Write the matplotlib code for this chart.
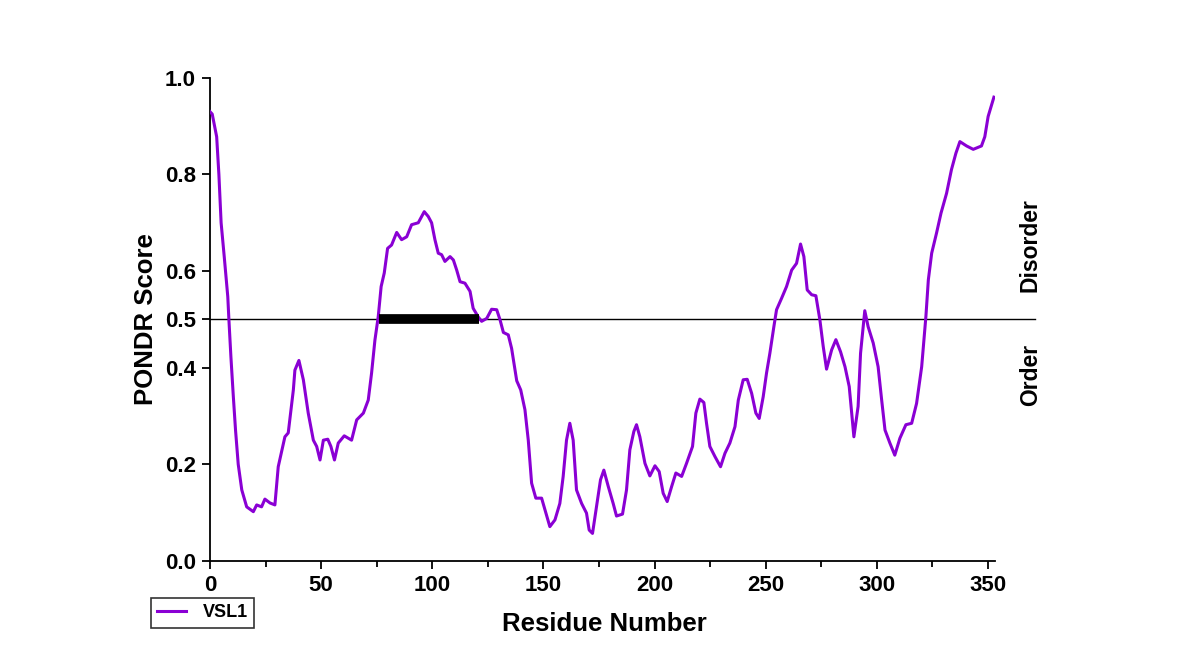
import numpy as np
import matplotlib
matplotlib.use('Agg')
import matplotlib.pyplot as plt

plt.rcParams['font.family'] = ['Liberation Sans', 'DejaVu Sans']
plt.rcParams['font.weight'] = 'bold'

# PONDR VSL1 prediction
residue = [0, 1, 3, 4, 5, 6.4, 8, 8.5, 9.4, 10.5,
           11.5, 12.7, 14.3, 16.5, 19.5, 21, 23.2, 24.7, 27, 29.2,
           30.7, 33.7, 35.2, 37.5, 38.2, 40, 42, 44.2, 46.5, 48,
           49.5, 51, 53, 54.4, 56, 57.7, 60.4, 63.7, 66, 69,
           71.2, 72.7, 74.2, 75.7, 77, 78.4, 79.9, 81.7, 84, 86.2,
           88.5, 90.7, 93.7, 96.4, 98.2, 99.7, 101.2, 102.7, 104.2, 105.7,
           108, 109.5, 111, 112.5, 114.7, 117, 118.4, 120.7, 122.2, 124.5,
           126.7, 129, 130.5, 132, 134.2, 135.7, 138, 139.8, 141.7, 143.2,
           144.7, 146.6, 149.2, 150.7, 152.9, 155.2, 157.4, 158.9, 160.4, 161.9,
           163.4, 164.9, 167.2, 169.4, 170.6, 172.1, 173.9, 175.7, 177.2, 179.2,
           181.4, 182.9, 185.6, 187.4, 188.9, 190.7, 191.9, 193.4, 195.7, 197.9,
           200.2, 202.1, 203.9, 205.7, 207.7, 209.6, 212.2, 214.4, 217.1, 218.6,
           220.4, 222.2, 223.4, 224.9, 227.2, 229.7, 231.7, 233.9, 236.2, 237.7,
           239.9, 241.7, 243.7, 245.6, 247.1, 248.9, 250.4, 251.9, 253.7, 254.9,
           257.2, 259.4, 261.7, 263.9, 265.7, 267.2, 268.7, 270.7, 272.6, 274.4,
           275.9, 277.4, 279.7, 281.6, 283.7, 285.7, 287.6, 289.7, 291.6, 292.7,
           294.6, 296.1, 298.4, 300.6, 302.2, 303.7, 305.9, 308.1, 310.4, 313.1,
           315.7, 317.9, 320.2, 322.1, 323.2, 324.7, 326.9, 328.9, 331.4, 333.6,
           335.6, 337.4, 340.4, 343.4, 347.1, 348.6, 350.1, 352.7]
score = [0.93, 0.925, 0.878, 0.80, 0.70, 0.63, 0.547, 0.50, 0.423, 0.34,
         0.27, 0.20, 0.147, 0.112, 0.102, 0.116, 0.112, 0.128, 0.12, 0.116,
         0.195, 0.257, 0.265, 0.354, 0.395, 0.415, 0.375, 0.306, 0.25, 0.237,
         0.209, 0.25, 0.252, 0.237, 0.209, 0.244, 0.259, 0.25, 0.292, 0.306,
         0.333, 0.389, 0.457, 0.506, 0.568, 0.596, 0.647, 0.654, 0.68, 0.665,
         0.671, 0.696, 0.70, 0.723, 0.713, 0.70, 0.665, 0.637, 0.634, 0.62,
         0.63, 0.623, 0.602, 0.578, 0.575, 0.558, 0.523, 0.505, 0.496, 0.502,
         0.521, 0.52, 0.499, 0.473, 0.468, 0.44, 0.373, 0.354, 0.313, 0.25,
         0.161, 0.13, 0.13, 0.106, 0.071, 0.085, 0.119, 0.175, 0.25, 0.285,
         0.25, 0.147, 0.119, 0.099, 0.064, 0.057, 0.112, 0.168, 0.188, 0.154,
         0.119, 0.093, 0.097, 0.147, 0.23, 0.268, 0.282, 0.257, 0.202, 0.176,
         0.197, 0.185, 0.14, 0.123, 0.154, 0.182, 0.175, 0.202, 0.237, 0.306,
         0.335, 0.328, 0.285, 0.237, 0.216, 0.195, 0.223, 0.244, 0.278, 0.333,
         0.375, 0.376, 0.347, 0.306, 0.295, 0.34, 0.389, 0.43, 0.485, 0.52,
         0.544, 0.568, 0.602, 0.616, 0.656, 0.63, 0.561, 0.551, 0.549, 0.499,
         0.444, 0.397, 0.437, 0.458, 0.433, 0.402, 0.361, 0.257, 0.32, 0.43,
         0.518, 0.485, 0.451, 0.402, 0.333, 0.271, 0.244, 0.219, 0.254, 0.282,
         0.285, 0.326, 0.402, 0.506, 0.582, 0.637, 0.679, 0.72, 0.761, 0.81,
         0.844, 0.868, 0.859, 0.852, 0.859, 0.878, 0.92, 0.96]

# disordered region marked by the black bar
disorder_start = 76
disorder_end = 121
threshold = 0.5

y_ticks = [0.0, 0.2, 0.4, 0.5, 0.6, 0.8, 1.0]
x_ticks = [0, 50, 100, 150, 200, 250, 300, 350]

fig = plt.figure(figsize=(12, 6.71), dpi=100)
ax = fig.add_axes([0.175, 0.164, 0.654, 0.720])

ax.plot(residue, score, color='#8a00d4', lw=2.2, label='VSL1', zorder=3)

# threshold line runs a bit past the axes on the right
ax.plot([0, 371], [threshold, threshold], color='black', lw=1.0, clip_on=False, zorder=2)
ax.plot([disorder_start, disorder_end], [threshold, threshold], color='black', lw=7,
        solid_capstyle='butt', zorder=4)

ax.set_xlim(0, 353.1)
ax.set_ylim(0, 1.0)
ax.set_xticks(x_ticks)
ax.set_xticks(np.arange(25, 353, 50), minor=True)
ax.set_yticks(y_ticks)
ax.set_yticklabels(['%.1f' % t for t in y_ticks])

for s in ['top', 'right']:
    ax.spines[s].set_visible(False)
ax.spines['left'].set_linewidth(1.3)
ax.spines['bottom'].set_linewidth(1.3)
ax.tick_params(axis='both', which='major', length=6, width=1.3, labelsize=16, pad=4)
ax.tick_params(axis='x', which='minor', length=4, width=1.3)

ax.set_ylabel('PONDR Score', fontsize=18.5, fontweight='bold')
ax.yaxis.set_label_coords(-0.066, 0.5)
ax.set_xlabel('Residue Number', fontsize=18.5, fontweight='bold')
ax.xaxis.set_label_coords(0.502, -0.106)

ax.text(369, 0.654, 'Disorder', rotation=90, fontsize=16.5, fontweight='bold',
        ha='center', va='center', clip_on=False)
ax.text(369, 0.385, 'Order', rotation=90, fontsize=16.5, fontweight='bold',
        ha='center', va='center', clip_on=False)

leg = ax.legend(loc='upper left', bbox_to_anchor=(-0.075, -0.077), fontsize=13,
                frameon=True, fancybox=False, edgecolor='black', borderaxespad=0,
                handlelength=1.6, handletextpad=0.9, borderpad=0.35)
leg.get_frame().set_linewidth(1.2)

plt.savefig('out.png', dpi=100)
